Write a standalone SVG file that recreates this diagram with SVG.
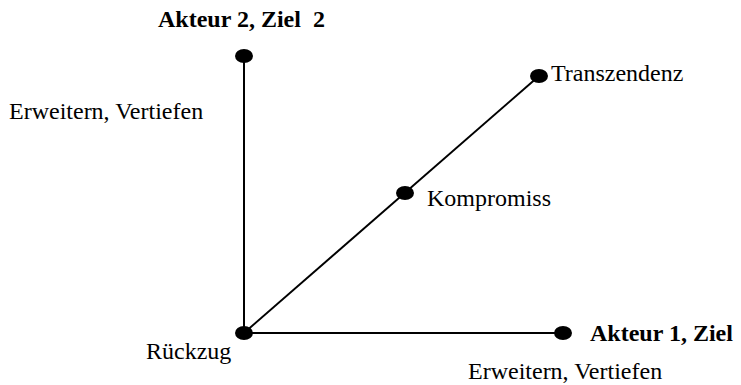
<svg xmlns="http://www.w3.org/2000/svg" width="741" height="385" viewBox="0 0 741 385">
<style>
.t{font-family:"Liberation Serif","Times New Roman",serif;font-size:24px;fill:#000;white-space:pre}
.b{font-weight:bold}
.ln{stroke:#000;stroke-width:2;fill:none}
.dot{fill:#000}
</style>
<rect width="741" height="385" fill="#fff"/>
<g id="connectors">
<line class="ln" x1="244" y1="56" x2="244" y2="333"/>
<line class="ln" x1="244" y1="333" x2="563" y2="333"/>
<line class="ln" x1="244" y1="333" x2="539" y2="76"/>
</g>
<g id="akteur2"><ellipse class="dot" cx="244" cy="56" rx="9" ry="7"/><text class="t b" x="158" y="27" xml:space="preserve">Akteur 2, Ziel  2</text><text class="t" x="9" y="119">Erweitern, Vertiefen</text></g>
<g id="rueckzug"><ellipse class="dot" cx="244" cy="333" rx="9" ry="7"/><text class="t" x="146" y="359">Rückzug</text></g>
<g id="akteur1"><ellipse class="dot" cx="563" cy="333" rx="9" ry="7"/><text class="t b" x="590" y="341">Akteur 1, Ziel</text><text class="t" x="468" y="379">Erweitern, Vertiefen</text></g>
<g id="kompromiss"><ellipse class="dot" cx="405" cy="193" rx="9" ry="7"/><text class="t" x="427" y="206">Kompromiss</text></g>
<g id="transzendenz"><ellipse class="dot" cx="539" cy="76" rx="9" ry="7"/><text class="t" x="551" y="81">Transzendenz</text></g>
</svg>
